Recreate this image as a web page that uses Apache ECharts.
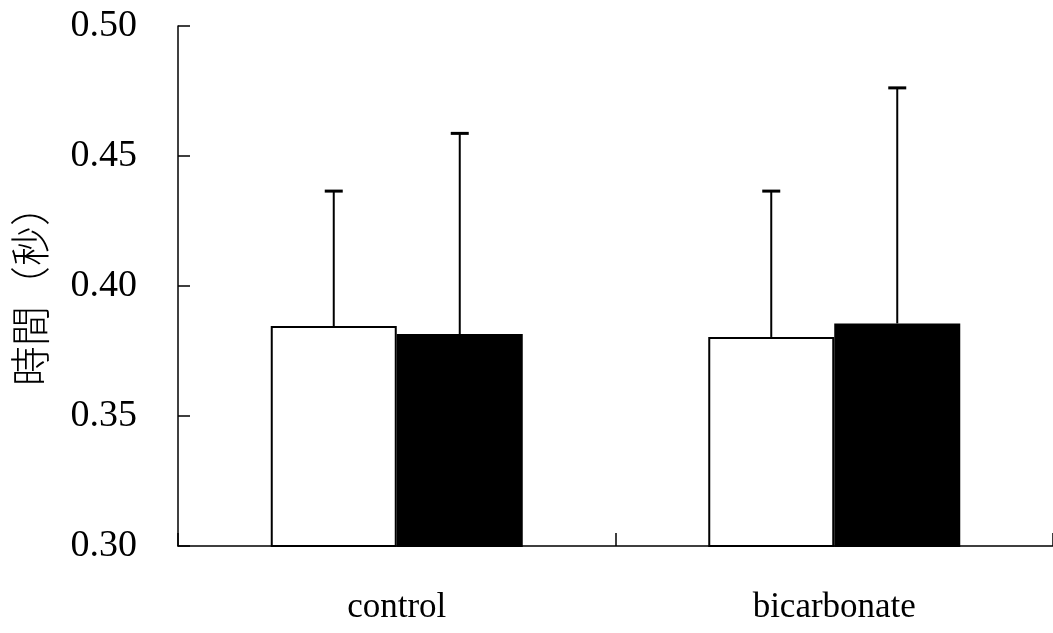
<!DOCTYPE html>
<html>
<head>
<meta charset="utf-8">
<script src="https://cdn.jsdelivr.net/npm/echarts@6/dist/echarts.min.js"></script>
<style>html,body{margin:0;padding:0;background:#fff}#c{width:1053px;height:633px}</style>
</head>
<body>
<div id="c"></div>
<script>
const categories = ['control', 'bicarbonate'];
const whiteMeans = [0.3846, 0.3804];
const whiteUpper = [0.4365, 0.4365];
const blackMeans = [0.3815, 0.3856];
const blackUpper = [0.4587, 0.4762];
const yTicks = [0.30, 0.35, 0.40, 0.45, 0.50];
const yLabel = '時間（秒）';

const BAR_W = 126;
const chart = echarts.init(document.getElementById('c'));

function errSeries(means, upper, offset) {
  return {
    type: 'custom',
    z: 5,
    data: categories.map((c, i) => [i, means[i], upper[i]]),
    renderItem: function (params, api) {
      const i = api.value(0);
      const p0 = api.coord([i, api.value(1)]);
      const p1 = api.coord([i, api.value(2)]);
      const x = p0[0] + offset;
      const cap = 9;
      return {
        type: 'group',
        children: [
          { type: 'line', shape: { x1: x, y1: p0[1], x2: x, y2: p1[1] }, style: { stroke: '#000', lineWidth: 2 } },
          { type: 'line', shape: { x1: x - cap, y1: p1[1], x2: x + cap, y2: p1[1] }, style: { stroke: '#000', lineWidth: 3 } }
        ]
      };
    }
  };
}

chart.setOption({
  animation: false,
  backgroundColor: '#fff',
  grid: { left: 178, right: 0, top: 26, bottom: 87, outerBoundsMode: 'none', containLabel: false },
  xAxis: {
    type: 'category',
    data: categories,
    axisLine: { lineStyle: { color: '#000', width: 1.5 } },
    axisTick: { show: true, inside: true, length: 13, lineStyle: { color: '#000', width: 1.5 } },
    axisLabel: { color: '#000', fontFamily: 'Liberation Serif', fontSize: 35, margin: 44 }
  },
  yAxis: {
    type: 'value',
    min: yTicks[0],
    max: yTicks[yTicks.length - 1],
    interval: 0.05,
    splitLine: { show: false },
    axisLine: { show: true, lineStyle: { color: '#000', width: 1.5 } },
    axisTick: { show: true, inside: true, length: 12, lineStyle: { color: '#000', width: 1.5 } },
    axisLabel: { color: '#000', fontFamily: 'Liberation Serif', fontSize: 38, margin: 41,
      formatter: v => v.toFixed(2) },
    name: yLabel,
    nameLocation: 'middle',
    nameGap: 128,
    nameRotate: 90,
    nameTextStyle: { color: '#000', fontFamily: 'Noto Sans CJK TC', fontSize: 40, fontWeight: 300 }
  },
  series: [
    {
      type: 'bar', data: whiteMeans, barWidth: BAR_W, barGap: '0%',
      itemStyle: { color: '#fff', borderColor: '#000', borderWidth: 2 }
    },
    {
      type: 'bar', data: blackMeans, barWidth: BAR_W, barGap: '0%',
      itemStyle: { color: '#000', borderColor: '#000', borderWidth: 2 }
    },
    errSeries(whiteMeans, whiteUpper, -BAR_W / 2),
    errSeries(blackMeans, blackUpper, BAR_W / 2)
  ]
});
</script>
</body>
</html>
